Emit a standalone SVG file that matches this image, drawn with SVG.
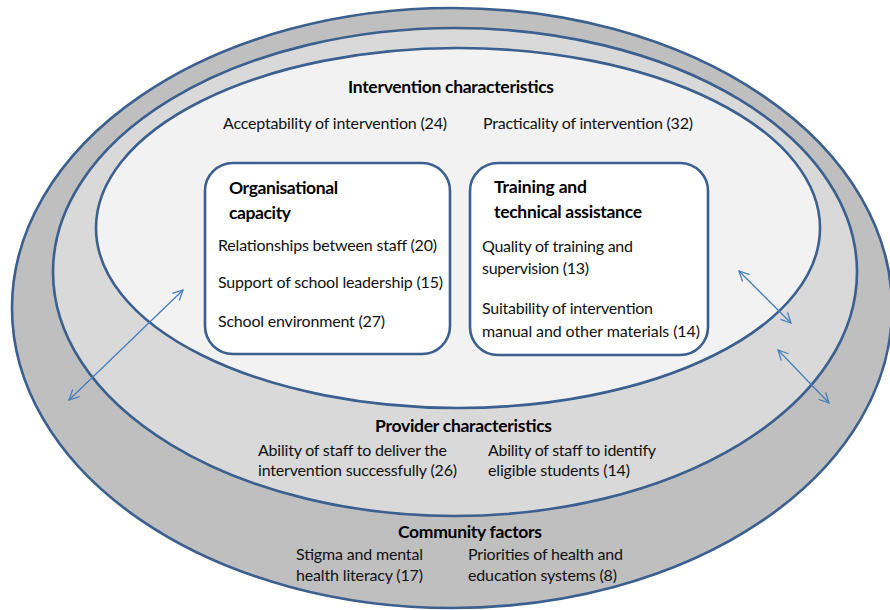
<svg xmlns="http://www.w3.org/2000/svg" width="890" height="610" viewBox="0 0 890 610">
<defs>
<style>
.ring{stroke:#3B5F8E;stroke-width:2.6}
.box{fill:#FFFFFF;stroke:#3B5F8E;stroke-width:2.6}
.t{font-family:Lato,"Open Sans","Liberation Sans",sans-serif;font-size:16px;fill:#111}
.b{font-family:Lato,"Open Sans","Liberation Sans",sans-serif;font-size:17.5px;font-weight:bold;fill:#000}
.arr{stroke:#4A7EBB;stroke-width:1.3;fill:none;marker-start:url(#ah);marker-end:url(#ah)}
</style>
<marker id="ah" viewBox="0 0 12 12" refX="11" refY="6" markerWidth="12" markerHeight="12" markerUnits="userSpaceOnUse" orient="auto-start-reverse">
<path d="M1,1 L11,6 L1,11" fill="none" stroke="#4A7EBB" stroke-width="1.3"/>
</marker>
</defs>
<rect width="890" height="610" fill="#FFFFFF"/>
<g id="community">
<ellipse class="ring" cx="452" cy="308" rx="440" ry="300" fill="#BFBFBF"/>
</g>
<g id="provider">
<ellipse class="ring" cx="455" cy="272" rx="402" ry="244" fill="#D9D9D9"/>
</g>
<g id="intervention">
<ellipse class="ring" cx="458" cy="228" rx="362" ry="180" fill="#F2F2F2"/>
</g>
<g id="organisational-capacity">
<rect class="box" x="205" y="163" width="245" height="191" rx="28" ry="28"/>
<text class="b" x="229" y="194" textLength="109">Organisational</text>
<text class="b" x="229" y="219" textLength="62">capacity</text>
<text class="t" x="218" y="251" textLength="219">Relationships between staff (20)</text>
<text class="t" x="218" y="288" textLength="225">Support of school leadership (15)</text>
<text class="t" x="218" y="327" textLength="167">School environment (27)</text>
</g>
<g id="training">
<rect class="box" x="470" y="163" width="238" height="192" rx="28" ry="28"/>
<text class="b" x="494" y="193" textLength="93">Training and</text>
<text class="b" x="494" y="218" textLength="148">technical assistance</text>
<text class="t" x="482" y="252" textLength="151">Quality of training and</text>
<text class="t" x="482" y="274" textLength="107">supervision (13)</text>
<text class="t" x="482" y="314" textLength="171">Suitability of intervention</text>
<text class="t" x="482" y="337" textLength="218">manual and other materials (14)</text>
</g>
<g id="intervention-labels">
<text class="b" x="348" y="93" textLength="206">Intervention characteristics</text>
<text class="t" x="223" y="129" textLength="224">Acceptability of intervention (24)</text>
<text class="t" x="483" y="129" textLength="210">Practicality of intervention (32)</text>
</g>
<g id="provider-labels">
<text class="b" x="375" y="432" textLength="177">Provider characteristics</text>
<text class="t" x="258" y="456" textLength="189">Ability of staff to deliver the</text>
<text class="t" x="258" y="476" textLength="199">intervention successfully (26)</text>
<text class="t" x="488" y="456" textLength="168">Ability of staff to identify</text>
<text class="t" x="488" y="476" textLength="142">eligible students (14)</text>
</g>
<g id="community-labels">
<text class="b" x="398" y="538" textLength="144">Community factors</text>
<text class="t" x="296" y="560" textLength="127">Stigma and mental</text>
<text class="t" x="296" y="581" textLength="127">health literacy (17)</text>
<text class="t" x="468" y="560" textLength="155">Priorities of health and</text>
<text class="t" x="468" y="581" textLength="149">education systems (8)</text>
</g>
<g id="connectors">
<line class="arr" x1="69" y1="400" x2="183" y2="290"/>
<line class="arr" x1="739" y1="271" x2="791" y2="323"/>
<line class="arr" x1="778" y1="350" x2="829" y2="403"/>
</g>
</svg>
